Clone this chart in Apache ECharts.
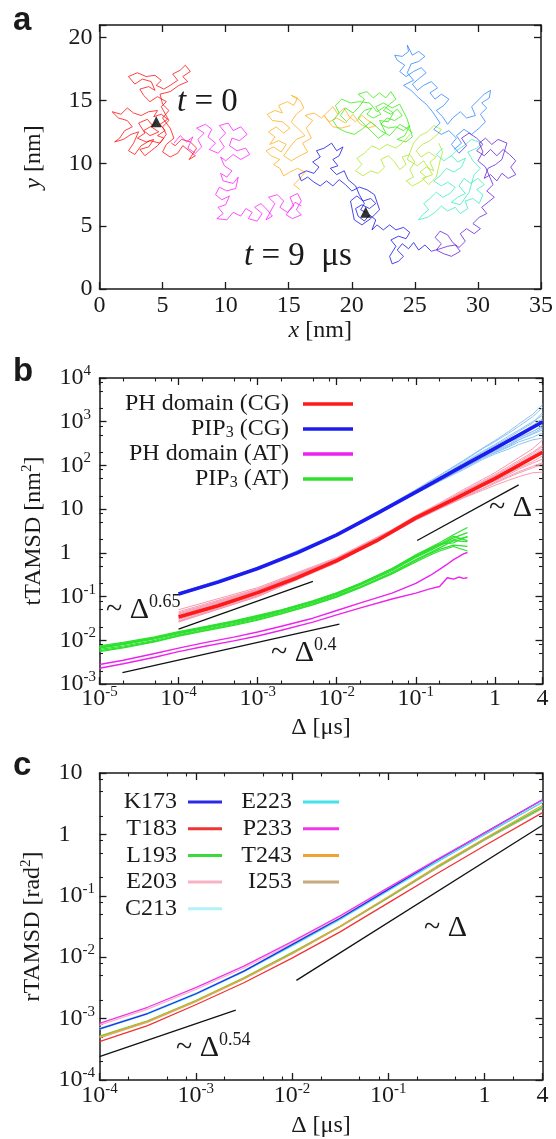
<!DOCTYPE html>
<html><head><meta charset="utf-8">
<script src="https://cdn.jsdelivr.net/npm/echarts@6/dist/echarts.min.js"></script>
<style>html,body{margin:0;padding:0;background:#fff}#c{width:556px;height:1139px}</style>
</head><body><div id="c"></div>
<script>
// ---------- Panel a: trajectory segments [x nm, y nm] ----------
const trajRed = [[4.5,13.3],[4.1,12.9],[4.7,12.5],[4.0,12.2],[3.5,12.6],[4.2,13.0],[3.8,13.5],[3.1,13.2],[3.6,12.4],[3.0,12.0],[3.7,11.7],[4.3,11.9],[3.9,11.3],[3.2,11.1],[3.6,10.6],[4.1,11.0],[4.6,11.4],[5.1,12.0],[4.6,12.2],[5.2,12.6],[4.8,13.1],[5.4,13.5],[4.9,13.9],[4.3,13.7],[4.6,14.2],[3.9,14.1],[3.3,13.8],[2.7,14.0],[2.2,14.4],[1.7,13.9],[1.0,14.1],[1.5,13.6],[2.2,13.4],[2.6,12.9],[2.0,12.6],[1.6,12.0],[1.2,11.7],[1.9,11.9],[2.5,12.3],[3.1,12.5],[2.7,11.6],[2.3,11.0],[2.8,10.7],[3.3,11.4],[4.0,11.8],[4.8,11.6],[5.3,12.3],[5.0,12.9],[5.5,13.4],[4.9,14.5],[5.3,14.9],[4.6,15.3],[4.0,14.9],[3.5,15.4],[3.2,15.9],[3.9,16.1],[4.4,15.8],[4.1,16.5],[3.4,16.7],[2.8,16.3],[2.3,16.9],[3.0,17.2],[3.7,16.9],[4.4,17.0],[4.9,16.6],[4.5,16.2],[5.1,15.9],[5.6,16.2],[6.2,16.6],[5.8,17.1],[6.4,17.4],[6.8,17.8],[7.2,17.3],[6.6,16.9],[7.0,16.5],[6.3,16.2],[5.6,15.7],[4.8,15.5],[5.0,14.7],[5.5,14.2],[5.0,13.6],[5.6,12.8],[5.9,12.0],[5.3,11.5],[5.0,10.9],[5.6,10.5],[6.2,10.8],[6.6,11.4],[7.1,11.0],[7.6,10.6],[7.1,10.3],[7.7,11.2],[7.2,11.7],[6.5,11.9],[6.0,11.4],[5.7,11.6]];
const trajMagenta = [[5.9,11.6],[6.4,12.2],[6.9,11.7],[7.4,12.1],[7.0,11.2],[7.6,10.8],[8.1,11.3],[7.8,11.9],[8.3,12.4],[7.7,12.8],[8.4,13.1],[8.9,12.7],[8.6,12.1],[9.2,11.6],[8.7,11.1],[9.4,10.8],[9.9,11.3],[9.5,11.9],[10.0,12.4],[9.5,13.0],[10.2,13.2],[10.6,12.6],[11.2,12.9],[11.7,12.3],[11.1,11.8],[10.5,12.0],[10.3,11.4],[10.9,11.0],[11.6,11.2],[11.9,10.7],[11.2,10.3],[10.6,10.7],[10.0,10.2],[9.6,10.5],[9.9,9.8],[10.5,9.4],[10.1,8.9],[9.6,9.2],[9.8,8.6],[10.6,8.4],[11.0,8.9],[10.8,8.0],[10.1,7.8],[9.5,8.1],[9.2,7.5],[9.7,7.1],[10.3,7.4],[10.0,6.7],[9.4,6.5],[9.8,6.0],[9.3,5.6],[10.1,5.5],[10.6,6.1],[11.2,5.8],[11.6,6.4],[12.1,6.1],[11.8,5.6],[12.5,5.4],[12.9,6.0],[12.3,6.5],[12.8,6.8],[13.3,6.3],[13.7,5.8],[13.2,5.5],[13.9,6.8],[13.4,7.3],[14.1,7.5],[14.6,7.0],[14.3,6.5],[14.9,6.1],[15.4,6.6],[15.1,7.3],[15.7,7.6],[16.0,7.0],[15.6,6.3],[16.0,5.9],[15.3,5.6],[14.8,5.9],[15.5,6.9],[16.0,6.6]];
const trajOrange = [[15.9,7.9],[15.4,8.3],[15.9,8.8],[16.3,9.3],[15.7,9.6],[15.1,9.3],[14.6,9.0],[14.3,9.6],[13.8,9.9],[14.3,10.3],[13.6,10.6],[13.2,11.0],[13.8,11.3],[14.4,10.9],[14.8,11.5],[14.2,11.8],[13.5,11.5],[13.9,12.1],[13.4,12.5],[14.0,12.9],[14.6,12.4],[15.1,12.8],[14.5,13.3],[13.7,13.4],[13.3,13.9],[13.9,14.2],[14.5,14.0],[14.2,14.6],[14.9,14.9],[15.4,14.6],[15.7,15.2],[15.2,15.4],[15.9,15.0],[16.2,14.4],[15.6,13.9],[15.2,13.3],[15.8,12.7],[16.3,12.2],[15.6,11.9],[15.1,11.3],[14.6,10.6],[15.2,10.2],[15.9,10.6],[16.5,10.9],[16.1,11.6],[16.8,12.0],[16.4,12.8],[16.9,13.4],[16.3,13.8],[17.0,14.0],[17.6,13.6],[18.1,14.1],[18.5,14.5],[18.9,13.9],[19.4,14.4],[19.8,13.7],[20.3,13.3],[20.8,13.8],[21.3,13.4],[21.9,13.0],[21.3,12.8],[20.7,13.1],[20.1,13.9],[19.5,13.2],[18.8,13.6],[18.2,13.3],[17.8,13.8],[18.5,12.9],[19.2,12.8],[19.9,13.0]];
const trajGreen = [[19.6,13.3],[19.1,13.8],[19.5,14.4],[20.1,14.0],[20.6,14.5],[21.0,15.1],[20.5,15.5],[21.2,15.7],[21.7,15.2],[22.2,15.6],[22.7,15.2],[23.1,15.7],[23.5,15.1],[23.0,14.7],[22.5,14.2],[23.1,13.9],[23.6,14.3],[24.0,13.8],[23.4,13.4],[22.8,13.6],[22.3,13.1],[22.9,12.8],[23.5,12.9],[24.1,12.6],[24.6,13.0],[24.2,12.2],[23.6,11.9],[24.3,11.7],[24.8,12.1],[24.4,13.5],[23.8,14.7],[23.2,14.4],[22.5,14.8],[21.9,14.5],[22.3,13.9],[21.7,13.6],[21.2,13.9],[21.6,14.4],[21.0,14.2],[20.5,13.6],[21.1,13.0],[21.6,12.5],[22.1,12.0],[22.7,12.4],[22.2,13.4],[22.9,13.3],[23.3,14.0],[22.6,14.5],[22.0,14.1],[21.4,14.8],[20.6,14.9],[19.9,14.8],[19.2,15.1],[18.7,14.6],[19.0,14.0],[18.5,13.4],[18.9,12.8],[19.5,12.5],[20.2,12.3],[20.8,12.7],[21.5,13.3],[22.3,12.6],[23.0,12.2],[23.8,13.1],[24.5,12.7],[24.8,12.4]];
const trajYellowGreen = [[24.6,12.3],[24.1,11.7],[23.5,11.2],[22.8,11.5],[22.2,11.1],[21.6,11.4],[21.0,10.8],[20.4,10.4],[20.8,9.9],[20.3,9.4],[20.9,9.0],[21.5,9.4],[22.1,9.2],[22.6,9.7],[22.3,10.3],[22.9,10.6],[23.4,10.1],[23.8,9.5],[24.3,9.9],[24.0,10.5],[24.6,10.7],[25.0,10.1],[24.6,9.5],[24.9,8.9],[24.3,8.6],[24.8,8.2],[25.4,8.5],[25.9,8.9],[25.4,9.3],[25.9,9.7],[26.5,9.4],[26.2,10.1],[26.7,10.5],[26.1,10.9],[25.5,10.5],[25.1,11.0],[25.6,11.5],[26.2,11.8],[26.8,12.3],[27.1,12.7],[26.5,13.0],[26.0,12.5],[25.4,12.2],[24.9,11.6],[24.4,10.3],[25.2,9.8],[25.7,10.2],[26.4,9.1],[25.6,8.8],[26.1,8.3],[26.7,8.9],[27.0,10.2],[27.2,10.9],[26.9,11.6]];
const trajTeal = [[27.2,11.2],[26.7,10.7],[27.3,10.2],[27.9,10.6],[28.4,10.1],[29.0,10.4],[28.7,9.7],[28.1,9.3],[27.5,9.6],[27.0,9.0],[26.5,8.6],[27.1,8.2],[27.6,8.5],[28.2,8.1],[27.8,7.6],[27.2,7.3],[26.7,7.7],[26.2,7.2],[25.7,6.8],[26.1,6.3],[25.6,5.9],[25.3,5.5],[26.0,5.7],[26.6,6.1],[27.1,6.6],[27.6,6.2],[28.2,6.5],[28.6,6.0],[29.2,6.4],[29.0,7.0],[29.6,7.2],[30.1,6.8],[30.4,7.5],[29.9,7.9],[30.5,8.3],[30.0,8.8],[29.4,8.4],[28.9,8.8],[28.5,8.2],[29.0,7.6],[28.4,7.3],[27.9,6.9],[28.6,6.7],[29.3,7.7],[29.7,9.1],[30.2,9.6],[29.6,10.2],[29.2,10.9],[29.9,11.2],[30.3,11.6],[29.5,11.9],[28.9,11.4],[28.3,11.0],[27.8,10.5]];
const trajSky = [[28.1,11.1],[28.7,11.6],[28.3,12.2],[28.9,12.7],[29.5,12.3],[30.1,12.8],[30.6,13.3],[30.2,13.9],[30.7,14.4],[30.3,14.8],[30.9,15.2],[31.0,15.8],[30.5,15.5],[30.0,15.0],[29.5,14.5],[29.8,13.8],[29.1,13.6],[28.6,14.1],[28.0,13.6],[27.6,13.1],[27.2,13.7],[26.7,14.2],[27.3,14.6],[27.7,15.1],[27.1,15.5],[26.6,15.1],[26.2,15.6],[26.8,16.0],[26.3,16.5],[25.7,16.2],[25.2,15.8],[24.8,16.3],[25.4,16.8],[25.9,17.2],[25.5,17.6],[24.9,17.3],[24.3,16.9],[23.8,17.3],[24.2,17.8],[23.6,18.2],[23.4,18.6],[24.0,18.5],[24.5,18.9],[24.4,19.4],[24.8,18.6],[25.3,18.9],[25.8,18.5],[25.3,18.1],[24.7,17.9],[24.4,17.2],[24.9,16.6],[24.1,16.2],[24.7,15.8],[25.3,15.2],[25.9,14.7],[26.4,14.1],[27.0,13.2],[26.5,12.7],[27.1,12.3],[27.7,12.6],[28.3,12.0],[27.9,11.5],[28.5,10.8]];
const trajViolet = [[28.5,10.8],[29.1,11.4],[28.7,12.0],[29.3,12.4],[29.9,12.0],[30.4,11.5],[29.9,11.0],[30.5,10.6],[31.0,11.1],[31.5,10.6],[32.0,11.1],[32.5,10.7],[33.0,10.2],[32.6,9.7],[33.0,9.1],[32.4,8.8],[31.9,9.2],[31.5,8.6],[31.0,9.1],[30.5,8.8],[30.8,9.6],[31.4,9.9],[31.9,10.3],[32.3,11.6],[31.6,11.9],[31.1,11.5],[30.6,12.0],[30.1,11.6],[30.4,10.9],[30.0,10.2],[30.6,9.7],[31.2,8.3],[30.7,7.8],[31.3,7.3],[30.8,6.9],[30.3,6.5],[30.7,6.0],[30.1,5.7],[29.6,5.2],[30.2,4.8],[29.7,4.4],[29.1,4.8],[28.6,4.4],[29.0,3.8],[28.5,3.3],[28.0,3.7],[27.6,4.3],[27.0,4.6],[26.6,4.1],[27.1,3.6],[26.7,3.1],[27.3,2.8],[27.9,2.6],[28.6,3.0],[28.2,3.5],[27.6,3.4],[27.0,3.2],[26.3,3.0]];
const trajBlue = [[26.3,3.0],[25.8,3.5],[25.3,3.1],[24.9,3.7],[24.5,3.2],[24.0,3.6],[23.6,3.1],[24.1,2.6],[23.7,2.2],[23.2,2.0],[23.0,2.6],[23.5,3.4],[23.1,3.9],[23.7,4.2],[24.3,4.0],[24.6,4.5],[24.1,4.9],[23.5,4.7],[23.0,5.1],[22.5,4.7],[22.0,5.1],[21.6,4.7],[21.9,5.5],[21.4,5.9],[21.0,5.4],[20.5,5.8],[20.3,6.4],[20.8,6.7],[21.4,6.4],[21.9,6.8],[21.5,7.2],[20.9,7.0],[20.4,7.4],[19.9,7.0],[20.2,5.5],[20.8,5.1],[21.5,5.6],[22.2,6.3],[21.8,7.5],[21.2,7.9],[20.6,8.1],[20.0,7.8],[19.5,8.3],[19.0,8.7],[18.5,8.2],[18.0,8.6],[17.5,8.2],[17.0,8.5],[16.5,8.9],[16.0,8.6],[15.8,9.1],[16.4,9.4],[17.0,9.2],[17.4,9.7],[16.9,10.1],[17.5,10.5],[17.2,11.0],[17.8,11.2],[18.4,11.6],[18.8,11.0],[19.3,11.3],[19.0,10.6],[18.5,10.3],[18.9,9.8],[18.3,9.6],[18.8,9.1],[19.4,9.4],[19.7,8.7],[20.3,8.2],[20.6,7.5],[21.0,6.8],[20.7,6.3],[21.1,6.1]];
const trajMarkers = [[4.5,13.3],[21.1,6.1]];

// ---------- Panel b: tTAMSD ----------
const dCG = [1e-4,3.16e-4,1e-3,3.16e-3,1e-2,3.16e-2,0.1,0.316,1,4];
const phCGMean = [0.034,0.0618,0.123,0.27,0.662,1.87,6.31,17.4,50.1,200];
const pipCGMean = [0.115,0.214,0.438,1.0,2.58,7.78,24.6,77.8,246,984];
const dInd = [1e-4,1e-3,1e-2,0.05,0.1,0.2,0.4,0.7,1,1.5,2,3,4];
const pipCGInd = [
 [0.12,0.455,2.68,12.8,26,54,115,210,300,470,640,1000,1400],
 [0.11,0.42,2.5,11.8,23,44,85,145,200,275,380,540,720],
 [0.118,0.45,2.66,13.2,27,58,125,240,350,550,780,1300,2100],
 [0.112,0.43,2.55,11.9,23.8,45.5,90,155,220,305,420,590,830],
 [0.116,0.44,2.6,12.5,25.5,52,105,185,265,395,530,830,1150],
 [0.113,0.43,2.56,12.0,23.6,46,88,150,195,265,345,440,560],
 [0.119,0.45,2.66,12.8,26,53,110,200,285,430,600,930,1600],
 [0.114,0.436,2.58,12.3,24.6,48,94,165,230,340,430,600,760],
 [0.111,0.425,2.52,11.6,22.6,43,80,137,182,238,300,385,420],
 [0.12,0.46,2.7,13.5,28,60,130,250,370,600,880,1480,2450],
 [0.115,0.438,2.58,12.3,24.6,49,99,178,255,365,510,760,1060],
 [0.113,0.433,2.56,12.1,24.2,47.5,92,158,212,295,385,520,650]
];
const phCGInd = [
 [0.045,0.15,0.75,3.3,6.9,13,26,44,62,95,130,200,290],
 [0.026,0.10,0.60,2.8,5.7,10.3,18.5,29,39,54,67,88,110],
 [0.04,0.14,0.72,3.2,6.7,12.6,25,41,58,88,120,185,270],
 [0.03,0.11,0.63,2.9,6.0,11.2,20.5,33,44,62,82,112,140],
 [0.05,0.16,0.78,3.4,7.1,13.8,28,48,68,108,150,240,380],
 [0.028,0.105,0.61,2.85,5.8,10.6,19.5,30,41,57,72,95,115],
 [0.036,0.13,0.69,3.1,6.5,12.2,23.5,39,53,78,104,160,215],
 [0.032,0.12,0.66,3.0,6.2,11.5,21.5,35,47,67,88,122,165],
 [0.042,0.145,0.73,3.25,6.8,12.8,25,41,55,82,112,170,240],
 [0.027,0.10,0.60,2.8,5.6,10.2,18,27,35,46,55,68,70],
 [0.038,0.135,0.70,3.1,6.4,11.9,23,38,51,75,100,150,205],
 [0.033,0.123,0.66,3.0,6.3,11.6,21.6,36,50,72,95,140,185]
];
const dPipAT = [1e-5,2e-5,5e-5,1e-4,2e-4,5e-4,1e-3,2e-3,5e-3,1e-2,2e-2,5e-2,0.1,0.15,0.2,0.3,0.45];
const pipAT = [
 [.0072,.0086,.0115,.0152,.0196,.027,.036,.049,.079,.12,.2,.44,.9,1.3,1.7,2.6,3.8],
 [.0058,.0070,.0095,.0128,.0165,.023,.030,.041,.066,.10,.165,.34,.66,.95,1.2,1.5,1.4],
 [.0068,.0082,.011,.0146,.0188,.026,.034,.047,.075,.115,.19,.41,.82,1.15,1.5,2.2,2.9],
 [.0062,.0074,.010,.0134,.0172,.024,.032,.043,.069,.105,.17,.36,.7,1.0,1.3,1.9,1.8],
 [.0075,.009,.012,.0158,.020,.028,.037,.050,.080,.122,.2,.43,.85,1.2,1.6,1.7,2.4],
 [.0055,.0067,.0092,.0124,.016,.022,.029,.040,.064,.097,.16,.33,.62,.88,1.1,1.4,1.1],
 [.0066,.0079,.0107,.0142,.0183,.0255,.0335,.046,.073,.112,.185,.39,.78,1.1,1.45,2.0,2.3],
 [.0070,.0084,.0112,.0148,.019,.0265,.035,.048,.077,.118,.195,.42,.86,1.25,1.55,2.4,1.9]
];
const dPhAT = [1e-5,2e-5,5e-5,1e-4,2e-4,5e-4,1e-3,2e-3,5e-3,1e-2,2e-2,5e-2,0.1,0.15,0.2,0.25,0.3,0.35,0.4,0.45];
const phATUpper = [.0028,.0035,.0050,.0066,.0086,.0118,.0155,.021,.032,.048,.072,.12,.2,.3,.42,.55,.7,.82,.95,1.02];
const phATLower = [.0023,.0029,.0041,.0055,.0071,.0097,.0125,.017,.026,.038,.055,.088,.12,.15,.17,.27,.25,.28,.26,.27];
const refB065 = [[1e-4,0.018],[5e-3,0.222]];
const refB04 = [[1.95e-5,0.00183],[0.0108,0.0234]];
const refB1 = [[0.104,1.92],[2.0,36]];

// ---------- Panel c: rTAMSD ----------
const dC = [1e-4,3.16e-4,1e-3,3.16e-3,1e-2,3.16e-2,0.1,0.316,1,4];
const resK173 = [6.82e-4,1.21e-3,2.54e-3,5.94e-3,0.0160,0.0431,0.127,0.375,1.057,3.66];
const resT183 = [4.21e-4,7.66e-4,1.68e-3,3.84e-3,9.64e-3,0.0259,0.0766,0.226,0.652,2.26];
const resL193 = [5.18e-4,9.20e-4,1.97e-3,4.61e-3,0.01186,0.0319,0.0942,0.291,0.839,2.78];
const resE203 = [7.83e-4,1.43e-3,2.98e-3,6.67e-3,0.01675,0.0441,0.127,0.358,0.986,3.34];
const resC213 = [6.98e-4,1.24e-3,2.59e-3,6.08e-3,0.0160,0.0431,0.124,0.358,1.009,3.42];
const resE223 = [6.67e-4,1.19e-3,2.48e-3,5.81e-3,0.01528,0.0411,0.121,0.350,0.986,3.34];
const resP233 = [8.39e-4,1.53e-3,3.19e-3,7.14e-3,0.01795,0.0472,0.136,0.384,1.057,3.66];
const resT243 = [5.06e-4,9.00e-4,1.92e-3,4.51e-3,0.01159,0.0319,0.0964,0.298,0.859,2.98];
const resI253 = [4.83e-4,8.79e-4,1.88e-3,4.41e-3,0.01132,0.0312,0.0920,0.278,0.802,2.65];
const refC054 = [[1e-4,2.4e-4],[2.6e-3,1.38e-3]];
const refC1 = [[0.0111,4.2e-3],[4,1.41]];

// ---------- minor tick values (2, 5, 8 per decade) ----------
const minorBx = [2e-5,5e-5,8e-5,2e-4,5e-4,8e-4,2e-3,5e-3,8e-3,2e-2,5e-2,8e-2,0.2,0.5,0.8,2];
const minorBy = [2e-3,5e-3,8e-3,2e-2,5e-2,8e-2,0.2,0.5,0.8,2,5,8,20,50,80,200,500,800,2000,5000,8000];
const minorCx = [2e-4,5e-4,8e-4,2e-3,5e-3,8e-3,2e-2,5e-2,8e-2,0.2,0.5,0.8,2];
const minorCy = [2e-4,5e-4,8e-4,2e-3,5e-3,8e-3,2e-2,5e-2,8e-2,0.2,0.5,0.8,2,5,8];

// ---------- build ----------
const FF = 'Liberation Serif';
const INK = '#1a1a1a';
const pairs = (xs, ys) => xs.map((x, i) => [x, ys[i]]);

function logLabel(v) {
  const e = Math.log10(v), r = Math.round(e);
  if (Math.abs(e - r) > 1e-6) return '{b|' + Math.round(v) + '}';
  if (r === 0) return '{b|1}';
  if (r === 1) return '{b|10}';
  return '{b|10}{s|' + r + '}';
}
const labelRich = {
  b: {fontSize: 24, fontFamily: FF, color: INK},
  s: {fontSize: 15, lineHeight: 15, fontFamily: FF, color: INK, padding: [0, 0, 14, 0]}
};
const nameRich = {
  i: {fontStyle: 'italic', fontSize: 24, fontFamily: FF, color: INK},
  s: {fontSize: 15, lineHeight: 15, fontFamily: FF, color: INK, padding: [0, 0, 14, 0]}
};
const axLine = {onZero: false, lineStyle: {color: INK, width: 1.5}};
const axTick = {inside: true, length: 7, lineStyle: {color: INK, width: 1.3}};

function ax(grid, type, min, max, opts) {
  return Object.assign({
    gridIndex: grid, type: type, min: min, max: max, logBase: 10,
    axisLine: axLine, axisTick: axTick, splitLine: {show: false},
    nameLocation: 'middle', nameTextStyle: {fontSize: 24, fontFamily: FF, color: INK, rich: nameRich}
  }, opts);
}
function minorAx(grid, min, max, pos, vals) {
  return {gridIndex: grid, type: 'log', logBase: 10, min: min, max: max, position: pos,
    axisLine: {show: false, onZero: false}, axisLabel: {show: false}, splitLine: {show: false},
    axisTick: {show: true, inside: true, length: 3.5, customValues: vals, lineStyle: {color: INK, width: 1.1}}};
}
const plainLabel = {fontSize: 24, fontFamily: FF, color: INK};

const xAxes = [
  ax(0, 'value', 0, 35, {interval: 5, position: 'bottom', name: '{i|x} [nm]', nameGap: 28,
      axisLabel: Object.assign({margin: 5}, plainLabel)}),
  ax(0, 'value', 0, 35, {interval: 5, position: 'top', axisLabel: {show: false}}),
  ax(1, 'log', 1e-5, 4, {position: 'bottom', name: 'Δ [μs]', nameGap: 32,
      axisLabel: {formatter: logLabel, rich: labelRich, margin: 3, showMaxLabel: true, showMinLabel: true}}),
  ax(1, 'log', 1e-5, 4, {position: 'top', axisLabel: {show: false}}),
  ax(2, 'log', 1e-4, 4, {position: 'bottom', name: 'Δ [μs]', nameGap: 34,
      axisLabel: {formatter: logLabel, rich: labelRich, margin: 4, showMaxLabel: true, showMinLabel: true}}),
  ax(2, 'log', 1e-4, 4, {position: 'top', axisLabel: {show: false}}),
  minorAx(1, 1e-5, 4, 'bottom', minorBx),
  minorAx(1, 1e-5, 4, 'top', minorBx),
  minorAx(2, 1e-4, 4, 'bottom', minorCx),
  minorAx(2, 1e-4, 4, 'top', minorCx)
];
const yAxes = [
  ax(0, 'value', 0, 21, {interval: 5, position: 'left', name: '{i|y} [nm]', nameGap: 54, nameRotate: 90,
      axisLabel: Object.assign({margin: 7, formatter: v => (v % 5 === 0 ? String(v) : '')}, plainLabel)}),
  ax(0, 'value', 0, 21, {interval: 5, position: 'right', axisLabel: {show: false}}),
  ax(1, 'log', 1e-3, 1e4, {position: 'left', name: 'tTAMSD [nm{s|2}]', nameGap: 52, nameRotate: 90,
      axisLabel: {formatter: logLabel, rich: labelRich, align: 'left', margin: 40, showMaxLabel: true, showMinLabel: true}}),
  ax(1, 'log', 1e-3, 1e4, {position: 'right', axisLabel: {show: false}}),
  ax(2, 'log', 1e-4, 10, {position: 'left', name: 'rTAMSD [rad{s|2}]', nameGap: 52, nameRotate: 90,
      axisLabel: {formatter: logLabel, rich: labelRich, align: 'left', margin: 41, showMaxLabel: true, showMinLabel: true}}),
  ax(2, 'log', 1e-4, 10, {position: 'right', axisLabel: {show: false}}),
  minorAx(1, 1e-3, 1e4, 'left', minorBy),
  minorAx(1, 1e-3, 1e4, 'right', minorBy),
  minorAx(2, 1e-4, 10, 'left', minorCy),
  minorAx(2, 1e-4, 10, 'right', minorCy)
];

const series = [];
function line(axi, data, color, width, name, z) {
  series.push({type: 'line', name: name, xAxisIndex: axi, yAxisIndex: axi, data: data, showSymbol: false,
    symbol: 'none', silent: true, z: z || 2,
    lineStyle: {color: color, width: width, join: 'round'}, itemStyle: {color: color}});
}
// panel a
const trajSegs = [
  [trajRed, '#ff1212'], [trajMagenta, '#ff22ff'], [trajOrange, '#ffb020'], [trajGreen, '#38ec14'],
  [trajYellowGreen, '#ade82a'], [trajTeal, '#3ceec0'], [trajSky, '#3088ff'], [trajViolet, '#6424dc'], [trajBlue, '#1616e6']
];
trajSegs.forEach(s => line(0, s[0], s[1], 0.8));
series.push({type: 'scatter', xAxisIndex: 0, yAxisIndex: 0, data: trajMarkers, symbol: 'triangle',
  symbolSize: 11, itemStyle: {color: '#000'}, z: 5, silent: true});

// panel b
pipCGInd.forEach(a => line(2, pairs(dInd, a), '#8cc4f2', 1));
phCGInd.forEach(a => line(2, pairs(dInd, a), '#f79ab0', 1));
line(2, pairs(dCG, phCGMean), '#ff1a1a', 3.6, 'PH domain (CG)', 4);
line(2, pairs(dCG, pipCGMean), '#1c1cf0', 3.6, 'PIP3 (CG)', 4);
line(2, pairs(dPhAT, phATUpper), '#ee22ee', 1.4, 'PH domain (AT)', 3);
line(2, pairs(dPhAT, phATLower), '#ee22ee', 1.4, 'PH domain (AT)', 3);
pipAT.forEach(a => line(2, pairs(dPipAT, a), '#2ee02e', 1.2, 'PIP3 (AT)', 3));
[refB065, refB04, refB1].forEach(r => line(2, r, '#111', 1.3));

// panel c
const resData = {K173: resK173, T183: resT183, L193: resL193, E203: resE203, C213: resC213,
  E223: resE223, P233: resP233, T243: resT243, I253: resI253};
const resColors = {K173: '#2a2ae8', T183: '#f03434', L193: '#3ada3a', E203: '#f7b2c6', C213: '#b2f2f8',
  E223: '#44e2ea', P233: '#ee36ee', T243: '#f2a232', I253: '#c9aa7c'};
['E203','C213','I253','L193','T243','T183','E223','K173','P233'].forEach(n =>
  line(4, pairs(dC, resData[n]), resColors[n], 1.3, n, 3));
[refC054, refC1].forEach(r => line(4, r, '#111', 1.3));

const legendText = {fontSize: 24, fontFamily: FF, color: INK, lineHeight: 24,
  rich: {sub: {fontSize: 16, lineHeight: 16, fontFamily: FF, color: INK, padding: [8, 0, 0, 0]},
         g: {width: 9, fontSize: 24}}};
const legendTextC = {fontSize: 24, fontFamily: FF, color: INK, lineHeight: 24,
  rich: {g: {width: 6, fontSize: 24}}};
const legends = [
  {data: ['PH domain (CG)', 'PIP3 (CG)', 'PH domain (AT)', 'PIP3 (AT)'], orient: 'vertical', align: 'right',
   right: 203, top: 392, padding: 0, itemWidth: 50, itemHeight: 3.5, itemGap: 1, icon: 'rect', selectedMode: false,
   textStyle: legendText, formatter: n => n.replace('PIP3', 'PIP{sub|3}') + '{g| }'},
  {data: ['K173','T183','L193','E203','C213'], orient: 'vertical', align: 'right',
   right: 334, top: 790, padding: 0, itemWidth: 34, itemHeight: 3, itemGap: 2.7, icon: 'rect', selectedMode: false,
   textStyle: legendTextC, formatter: n => n + '{g| }'},
  {data: ['E223','P233','T243','I253'], orient: 'vertical', align: 'right',
   right: 217, top: 790, padding: 0, itemWidth: 36, itemHeight: 3, itemGap: 2.7, icon: 'rect', selectedMode: false,
   textStyle: legendTextC, formatter: n => n + '{g| }'}
];

const annRich = {
  a: {fontSize: 30, fontFamily: FF, fill: INK},
  s: {fontSize: 18, lineHeight: 18, fontFamily: FF, fill: INK, padding: [0, 0, 16, 0]},
  i: {fontSize: 33, fontFamily: FF, fontStyle: 'italic', fill: INK},
  n: {fontSize: 33, fontFamily: FF, fill: INK}
};
function txt(x, y, text, extra) {
  return {type: 'text', x: x, y: y, silent: true, z: 10,
    style: Object.assign({text: text, rich: annRich, verticalAlign: 'middle', align: 'left', fill: INK,
      fontFamily: FF, fontSize: 30}, extra || {})};
}
const bold = {fontFamily: 'Liberation Sans', fontWeight: 'bold', fontSize: 33, rich: null};
const graphics = [
  txt(13, 21, 'a', bold),
  txt(13, 372, 'b', bold),
  txt(13, 766, 'c', bold),
  txt(177, 102, '{i|t}{n| = 0}'),
  txt(244, 256, '{i|t}{n| = 9  μs}'),
  txt(106, 610, '{a|~ Δ}{s|0.65}'),
  txt(271, 653, '{a|~ Δ}{s|0.4}'),
  txt(489, 508, '{a|~ Δ}'),
  txt(176, 1048, '{a|~ Δ}{s|0.54}'),
  txt(424, 928, '{a|~ Δ}')
];

const chart = echarts.init(document.getElementById('c'), null, {renderer: 'canvas', width: 556, height: 1139});
chart.setOption({
  animation: false,
  backgroundColor: '#fff',
  textStyle: {fontFamily: FF},
  grid: [
    {left: 99.5, top: 25, width: 443, height: 264},
    {left: 99.5, top: 378, width: 443, height: 306},
    {left: 99.5, top: 773, width: 443, height: 307}
  ],
  xAxis: xAxes,
  yAxis: yAxes,
  legend: legends,
  series: series,
  graphic: graphics
});
</script></body></html>
